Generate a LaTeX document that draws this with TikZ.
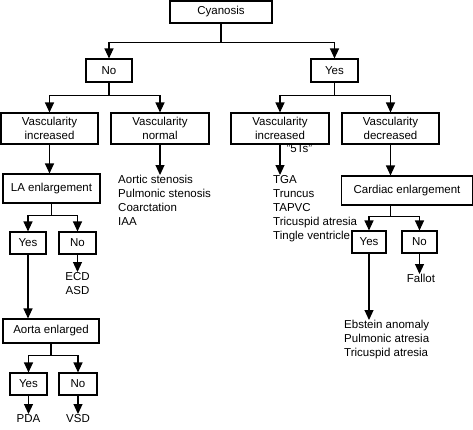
\documentclass[tikz,border=0pt]{standalone}
\usepackage{fontspec}
\setmainfont{Liberation Sans}
\usetikzlibrary{arrows.meta}
\tikzset{
  box/.style={draw, line width=1.1pt, inner sep=0pt, align=center, font=\fontsize{11.5}{14}\selectfont},
  txt/.style={inner sep=0pt, font=\fontsize{11.5}{14}\selectfont},
  ln/.style={line width=1.1pt},
  arr/.style={line width=1.1pt, -{Triangle[length=10pt,width=9pt]}}
}
\begin{document}
\begin{tikzpicture}[x=1pt,y=-1pt]
    \useasboundingbox (0,0) rectangle (473,429);
    \node[box, minimum width=102, minimum height=22] (cyan) at (221,12) {Cyanosis};
    \node[box, minimum width=46, minimum height=23] (no) at (109,70.5) {No};
    \node[box, minimum width=47, minimum height=23] (yes) at (334.5,70.5) {Yes};
    \node[box, minimum width=97, minimum height=31] (vinc) at (49.5,128.5) {Vascularity\\increased};
    \node[box, minimum width=98, minimum height=31] (vnorm) at (160,128.5) {Vascularity\\normal};
    \node[box, minimum width=98, minimum height=31] (vincb) at (280,128.5) {Vascularity\\increased};
    \node[box, minimum width=97, minimum height=31] (vdec) at (390.5,128.5) {Vascularity\\decreased};
    \node[box, minimum width=97, minimum height=29] (la) at (51.5,188.5) {LA enlargement};
    \node[box, minimum width=36, minimum height=22] (layes) at (28,243) {Yes};
    \node[box, minimum width=37, minimum height=22] (lano) at (77.5,243) {No};
    \node[txt, align=center, anchor=north] (ecd) at (77.5,272) {ECD\\ASD};
    \node[box, minimum width=96, minimum height=24] (aorta) at (51,331) {Aorta enlarged};
    \node[box, minimum width=37, minimum height=22] (aoyes) at (28.5,384) {Yes};
    \node[box, minimum width=38, minimum height=22] (aono) at (78,384) {No};
    \node[txt, anchor=north] (pda) at (28.5,414) {PDA};
    \node[txt, anchor=north] (vsd) at (78,414) {VSD};
    \node[txt, align=left, anchor=north west] (aslist) at (118,175) {Aortic stenosis\\Pulmonic stenosis\\Coarctation\\IAA};
    \node[txt, align=left, anchor=north west] (tga) at (273,175) {TGA\\Truncus\\TAPVC\\Tricuspid atresia\\Tingle ventricle};
    \node[box, minimum width=131, minimum height=29] (card) at (407,190.5) {Cardiac enlargement};
    \node[box, minimum width=34, minimum height=22] (cdyes) at (369,242) {Yes};
    \node[box, minimum width=35, minimum height=22] (cdno) at (419.5,242) {No};
    \node[txt, anchor=north] (fallot) at (421,274) {Fallot};
    \node[txt, align=left, anchor=north west] (ebst) at (344,320) {Ebstein anomaly\\Pulmonic atresia\\Tricuspid atresia};
    \draw[ln] (cyan.south) -- ++(0,19) coordinate (cyanbar);
    \draw[arr] (cyanbar) -| (no.north);
    \draw[arr] (cyanbar) -| (yes.north);
    \draw[ln] (no.south) -- ++(0,12.5) coordinate (nobar);
    \draw[arr] (nobar) -| (vinc.north);
    \draw[arr] (nobar) -| (vnorm.north);
    \draw[ln] (yes.south) -- ++(0,12.5) coordinate (yesbar);
    \draw[arr] (yesbar) -| (vincb.north);
    \draw[arr] (yesbar) -| (vdec.north);
    \draw[arr] (vinc.south) -- (vinc |- la.north);
    \draw[arr] (vnorm.south) -- (vnorm |- aslist.north);
    \draw[arr] (vincb.south) -- node[txt, right=6pt, pos=0.12] {"5Ts"} (vincb |- tga.north);
    \draw[arr] (vdec.south) -- (vdec |- card.north);
    \draw[ln] (la.south) -- ++(0,12) coordinate (labar);
    \draw[arr] (labar) -| (layes.north);
    \draw[arr] (labar) -| (lano.north);
    \draw[arr] (lano.south) -- (lano |- ecd.north);
    \draw[arr] (layes.south) -- (layes |- aorta.north);
    \draw[ln] (aorta.south) -- ++(0,12) coordinate (aobar);
    \draw[arr] (aobar) -| (aoyes.north);
    \draw[arr] (aobar) -| (aono.north);
    \draw[arr] (aoyes.south) -- (pda.north);
    \draw[arr] (aono.south) -- (vsd.north);
    \draw[ln] (vdec |- card.south) -- ++(0,11) coordinate (cdbar);
    \draw[arr] (cdbar) -| (cdyes.north);
    \draw[arr] (cdbar) -| (cdno.north);
    \draw[arr] (cdno.south) -- (cdno |- fallot.north);
    \draw[arr] (cdyes.south) -- (cdyes |- ebst.north);
\end{tikzpicture}
\end{document}
